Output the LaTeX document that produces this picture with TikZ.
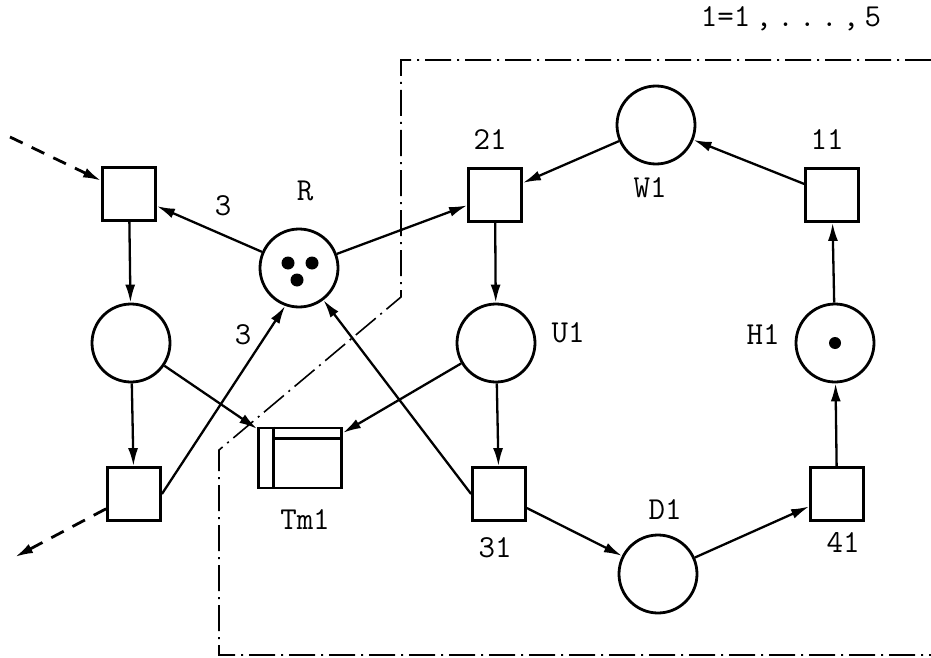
\documentclass[tikz,border=0pt]{standalone}
\usetikzlibrary{arrows.meta}

\begin{document}
\begin{tikzpicture}[x=1pt, y=-1pt, >={Latex[length=18pt,width=10pt]},
	place/.style={circle, draw, line width=2.8pt, minimum size=78pt, inner sep=0pt},
	trans/.style={rectangle, draw, line width=2.8pt, minimum size=53pt, inner sep=0pt},
	lbl/.style={font=\ttfamily\fontsize{32}{38}\selectfont, inner sep=0pt},
	arc/.style={line width=2.3pt, ->},
	ext/.style={line width=2.8pt, ->, dash pattern=on 14pt off 10pt},
	bound/.style={line width=1.6pt, dash pattern=on 26pt off 6pt on 2pt off 6pt}]
	\useasboundingbox (0, 0) rectangle (931, 658);

	% left part with the resource place
	\node[trans] (tA) at (129, 194) {};
	\node[place] (pA) at (131, 343) {};
	\node[trans] (tB) at (134, 494) {};
	\node[place] (pR) at (299, 268) {};
	\node[rectangle, draw, line width=2.8pt, minimum width=83pt, minimum height=60pt] (tm) at (300, 458) {};
	\draw[line width=2.8pt] ([xshift=16pt]tm.north west) -- ([xshift=16pt]tm.south west);
	\draw[line width=2.8pt] ([xshift=16pt, yshift=-12pt]tm.north west) -- ([yshift=-12pt]tm.north east);

	% cycle i
	\node[trans] (t21) at (495, 195) {};
	\node[place] (pU) at (496, 343) {};
	\node[trans] (t31) at (499, 494) {};
	\node[place] (pD) at (658, 574) {};
	\node[trans] (t41) at (837, 494) {};
	\node[place] (pH) at (835, 343) {};
	\node[trans] (t11) at (832, 195) {};
	\node[place] (pW) at (656, 125) {};

	% tokens
	\fill (pR) ++(-11, -5) circle[radius=6.5pt];
	\fill (pR) ++(13, -5) circle[radius=6.5pt];
	\fill (pR) ++(-2, 12) circle[radius=6.5pt];
	\fill (pH) circle[radius=6pt];

	% labels
	\node[lbl] (lIdx) at (791, 19) {1=1\,,\,.\,.\,.\,,\,5};
	\node[lbl] (lWa) at (223, 206) {3};
	\node[lbl] (lR) at (305, 191) {R};
	\node[lbl] (lWb) at (243, 335) {3};
	\node[lbl] (lTm) at (305, 520) {Tm1};
	\node[lbl] (l21) at (490, 140) {21};
	\node[lbl] (l11) at (827, 140) {11};
	\node[lbl] (lW) at (650, 188) {W1};
	\node[lbl] (lU) at (568, 333) {U1};
	\node[lbl] (lH) at (763, 335) {H1};
	\node[lbl] (l31) at (495, 548) {31};
	\node[lbl] (l41) at (843, 542) {41};
	\node[lbl] (lD) at (665, 510) {D1};

	% arcs
	\coordinate (inA) at (10, 137);
	\coordinate (outB) at (15, 557);
	\draw[ext] (inA) -- (tA);
	\draw[ext] (tB) -- (outB);
	\draw[arc] (tA) -- (pA);
	\draw[arc] (pA) -- (tB);
	\draw[arc] (pR) -- (tA);
	\draw[arc] (pR) -- (t21);
	\draw[arc] (tB.east) -- (pR.250);
	\draw[arc] (t31.west) -- (pR);
	\draw[arc] (pA) -- (tm);
	\draw[arc] (pU) -- (tm);
	\draw[arc] (t21) -- (pU);
	\draw[arc] (pU) -- (t31);
	\draw[arc] (t31) -- (pD);
	\draw[arc] (pD) -- (t41);
	\draw[arc] (t41) -- (pH);
	\draw[arc] (pH) -- (t11);
	\draw[arc] (t11) -- (pW);
	\draw[arc] (pW) -- (t21);

	% boundary of the repeated part
	\draw[bound] (931, 60) -- (401, 60) -- (401, 297) -- (219, 450) -- (219, 655) -- (931, 655);
\end{tikzpicture}
\end{document}
